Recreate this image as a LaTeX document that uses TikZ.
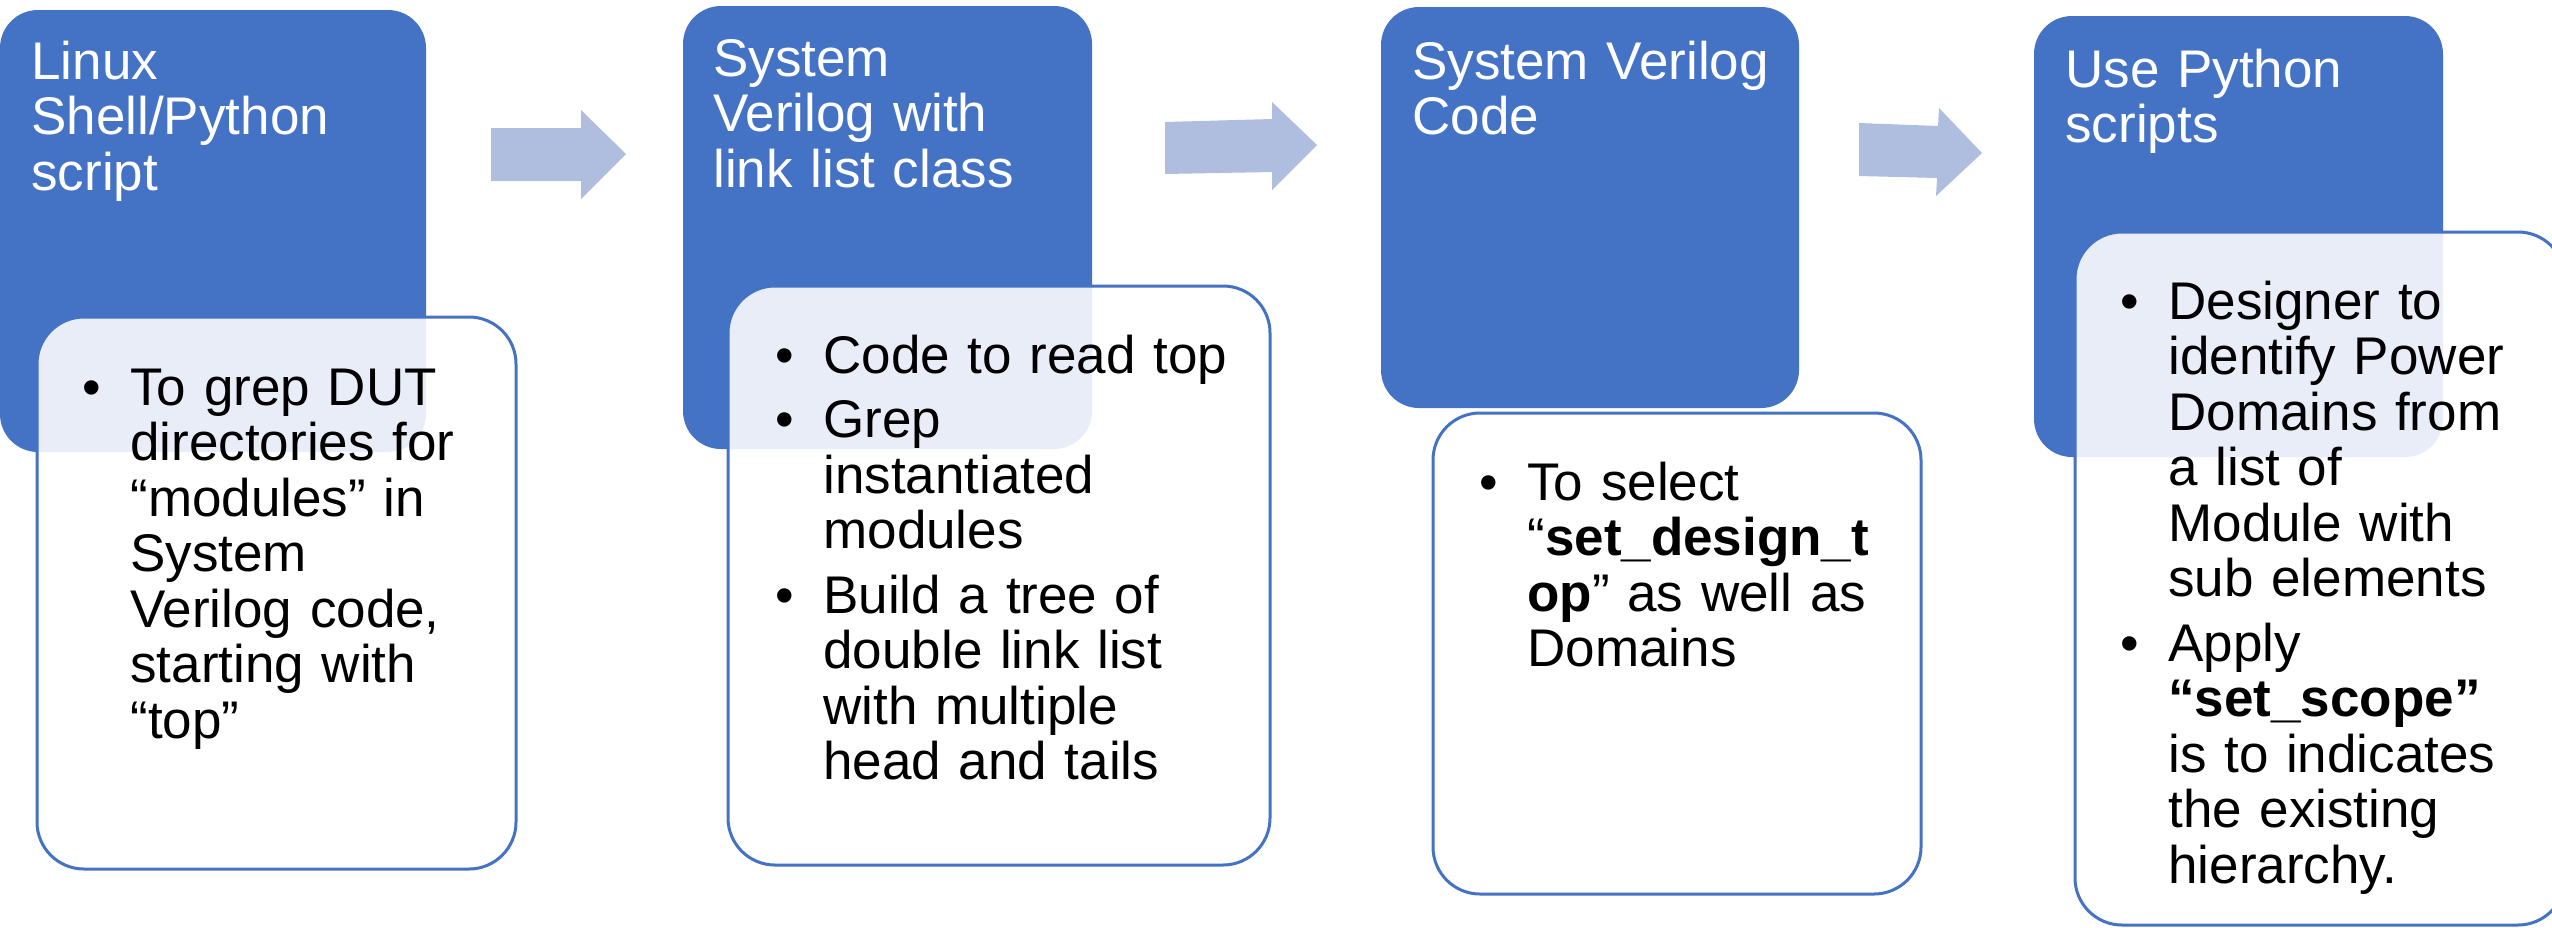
\documentclass[tikz,border=0pt]{standalone}
\usepackage{fontspec}
\setmainfont{Liberation Sans}
\definecolor{stepblue}{HTML}{4472C4}
\definecolor{flowarrow}{RGB}{175,189,222}
\newcommand\bul{\leavevmode\llap{\makebox[24pt][l]{•}}}
\tikzset{
  headbox/.style={fill=stepblue, rounded corners=19pt, anchor=north west,
    inner sep=0pt, outer sep=0pt},
  notebox/.style={draw=stepblue, line width=1.5pt, fill=white, fill opacity=0.88,
    rounded corners=23.5pt, anchor=north west, inner sep=0pt, outer sep=0pt},
  titletext/.style={anchor=base west, inner sep=0pt, text=white, text width=200pt,
    font=\fontsize{26.5pt}{27.9pt}\selectfont},
  bodytext/.style={anchor=base west, inner sep=0pt, text=black, text width=260pt,
    font=\fontsize{26.5pt}{27.75pt}\selectfont},
  flow/.style={fill=flowarrow},
}
\begin{document}
\begin{tikzpicture}[x=0.5pt,y=-0.5pt]
\useasboundingbox (0,0) rectangle (2552,927);
\clip (0,0) rectangle (2552,927);

% step headers
\node[headbox, minimum width=213pt, minimum height=221pt]   (h1) at (0,10) {};
\node[headbox, minimum width=204.5pt, minimum height=221.5pt] (h2) at (683,6) {};
\node[headbox, minimum width=209pt, minimum height=200.5pt] (h3) at (1381,7) {};
\node[headbox, minimum width=204.5pt, minimum height=220.5pt] (h4) at (2034,16) {};

% flow arrows between the steps
\fill[flow] (491,128) -- (581,128) -- (581,110) -- (626,154) -- (581,199) -- (581,181) -- (491,181) -- cycle;
\fill[flow] (1165,122) -- (1272,119) -- (1272,102) -- (1317,145) -- (1272,190) -- (1272,172) -- (1165,174) -- cycle;
\fill[flow] (1859,123) -- (1938,126) -- (1939,108) -- (1982,153) -- (1936,196) -- (1937,178) -- (1859,176) -- cycle;

% detail panels
\node[notebox, minimum width=239.5pt, minimum height=276pt]   (n1) at (37,317) {};
\node[notebox, minimum width=271pt, minimum height=289.5pt]   (n2) at (728,286) {};
\node[notebox, minimum width=244pt, minimum height=240.5pt]   (n3) at (1433,413) {};
\node[notebox, minimum width=245pt, minimum height=346.5pt]   (n4) at (2075,232) {};

% header titles
\node[titletext] (t1) at (31,79) {Linux\\Shell/Python\\script};
\node[titletext] (t2) at (713,76) {System\\Verilog with\\link list class};
\node[titletext] (t3) at (1412,79) {System Verilog\\Code};
\node[titletext] (t4) at (2065,87) {Use Python\\scripts};

% panel contents
\node[bodytext] (b1) at (130,405) {\bul To grep DUT\\directories for\\“modules” in\\System\\Verilog code,\\starting with\\“top”};
\node[bodytext] (b2) at (823,373) {\bul Code to read top\\[4.5pt]\bul Grep\\instantiated\\modules\\[4.5pt]\bul Build a tree of\\double link list\\with multiple\\head and tails};
\node[bodytext] (b3) at (1527,500) {\bul To select\\“\textbf{set\_design\_t}\\\textbf{op}” as well as\\Domains};
\node[bodytext] (b4) at (2168,319) {\bul Designer to\\identify Power\\Domains from\\a list of\\Module with\\sub elements\\[4.5pt]\bul Apply\\\textbf{“set\_scope”}\\is to indicates\\the existing\\hierarchy.};
\end{tikzpicture}
\end{document}
